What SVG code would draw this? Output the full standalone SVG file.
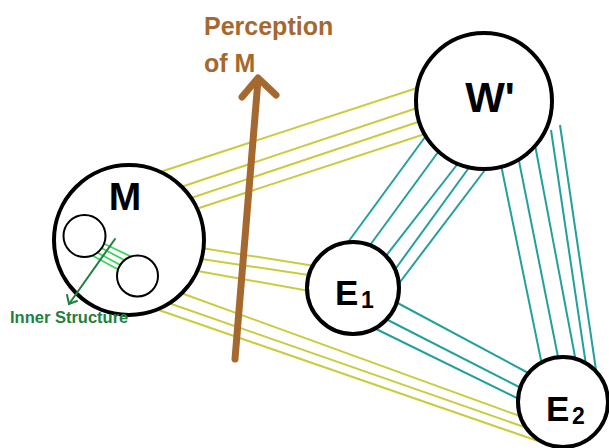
<svg xmlns="http://www.w3.org/2000/svg" width="609" height="448" viewBox="0 0 609 448">
<style>
.node{fill:#fff;stroke:#000;stroke-width:4}
.inner{fill:#fff;stroke:#000;stroke-width:2}
.y{stroke:#c9cc3f;stroke-width:2;fill:none}
.t{stroke:#22a09c;stroke-width:2;fill:none}
.g{stroke:#3dd45e;stroke-width:1.8;fill:none}
.lbl{font-family:"Liberation Sans",Arial,sans-serif;font-weight:bold;fill:#000}
.brown{font-family:"Liberation Sans",Arial,sans-serif;font-weight:bold;fill:#a5682f;font-size:25px}
</style>
<rect width="609" height="448" fill="#fff"/>
<g id="connectors">
  <!-- M to W' -->
  <line class="y" x1="160" y1="172" x2="420" y2="87"/>
  <line class="y" x1="178" y1="188" x2="420" y2="107"/>
  <line class="y" x1="188" y1="199" x2="424" y2="120"/>
  <line class="y" x1="193" y1="210" x2="428" y2="133"/>
  <!-- M to E1 -->
  <line class="y" x1="195" y1="247" x2="315" y2="266"/>
  <line class="y" x1="195" y1="258" x2="315" y2="276"/>
  <line class="y" x1="192" y1="270" x2="315" y2="292"/>
  <!-- M to E2 -->
  <line class="y" x1="170" y1="289" x2="528" y2="419"/>
  <line class="y" x1="160" y1="300" x2="530" y2="429"/>
  <line class="y" x1="150" y1="307" x2="538" y2="441"/>
  <!-- W' to E1 -->
  <line class="t" x1="343" y1="249" x2="428" y2="133"/>
  <line class="t" x1="365" y1="252" x2="444" y2="144"/>
  <line class="t" x1="382" y1="261" x2="463" y2="157"/>
  <line class="t" x1="391" y1="275" x2="476" y2="158"/>
  <line class="t" x1="394" y1="290" x2="491" y2="162"/>
  <!-- W' to E2 -->
  <line class="t" x1="500" y1="160" x2="542" y2="365"/>
  <line class="t" x1="518" y1="156" x2="559" y2="362"/>
  <line class="t" x1="535" y1="145" x2="576" y2="362"/>
  <line class="t" x1="551" y1="130" x2="586" y2="365"/>
  <line class="t" x1="560" y1="125" x2="596" y2="370"/>
  <!-- E1 to E2 -->
  <line class="t" x1="392" y1="300" x2="532" y2="375"/>
  <line class="t" x1="378" y1="315" x2="525" y2="390"/>
  <line class="t" x1="372" y1="327" x2="523" y2="401"/>
  <!-- perception arrow -->
  <g stroke="#a5682f" stroke-width="7" stroke-linecap="round" stroke-linejoin="round" fill="none">
    <line x1="235" y1="359" x2="258" y2="80"/>
    <polyline points="242,97 258,78 276,95"/>
  </g>
</g>
<g id="node-M">
  <circle class="node" cx="129" cy="240" r="75"/>
  <text class="lbl" x="125" y="210" font-size="39" text-anchor="middle">M</text>
  <g id="inner-structure">
    <line class="g" x1="92" y1="238" x2="132" y2="257"/>
    <line class="g" x1="90" y1="242" x2="128" y2="262"/>
    <line class="g" x1="87" y1="247" x2="124" y2="267"/>
    <line class="g" x1="84" y1="251" x2="121" y2="271"/>
    <circle class="inner" cx="84.5" cy="236" r="21"/>
    <circle class="inner" cx="137.5" cy="276" r="20.5"/>
    <g stroke="#1f8040" stroke-width="2" fill="none" stroke-linecap="round">
      <line x1="115" y1="239" x2="69" y2="304"/>
      <polyline points="67,295 69,304 77,301"/>
    </g>
  </g>
</g>
<g id="node-W">
  <circle class="node" cx="484" cy="101" r="68"/>
  <text class="lbl" x="490" y="112" font-size="42" text-anchor="middle">W'</text>
</g>
<g id="node-E1">
  <circle class="node" cx="353" cy="288" r="46"/>
  <text class="lbl" x="335" y="305" font-size="35">E</text>
  <text class="lbl" x="361" y="308" font-size="23">1</text>
</g>
<g id="node-E2">
  <circle class="node" cx="563" cy="402" r="45"/>
  <text class="lbl" x="546" y="421" font-size="35">E</text>
  <text class="lbl" x="572" y="424" font-size="23">2</text>
</g>
<g id="labels">
  <text class="brown" x="204" y="35">Perception</text>
  <text class="brown" x="204" y="72">of M</text>
  <text x="10" y="323" font-family="'Liberation Sans',Arial,sans-serif" font-weight="bold" font-size="16.5" fill="#1f8040">Inner Structure</text>
</g>
</svg>
